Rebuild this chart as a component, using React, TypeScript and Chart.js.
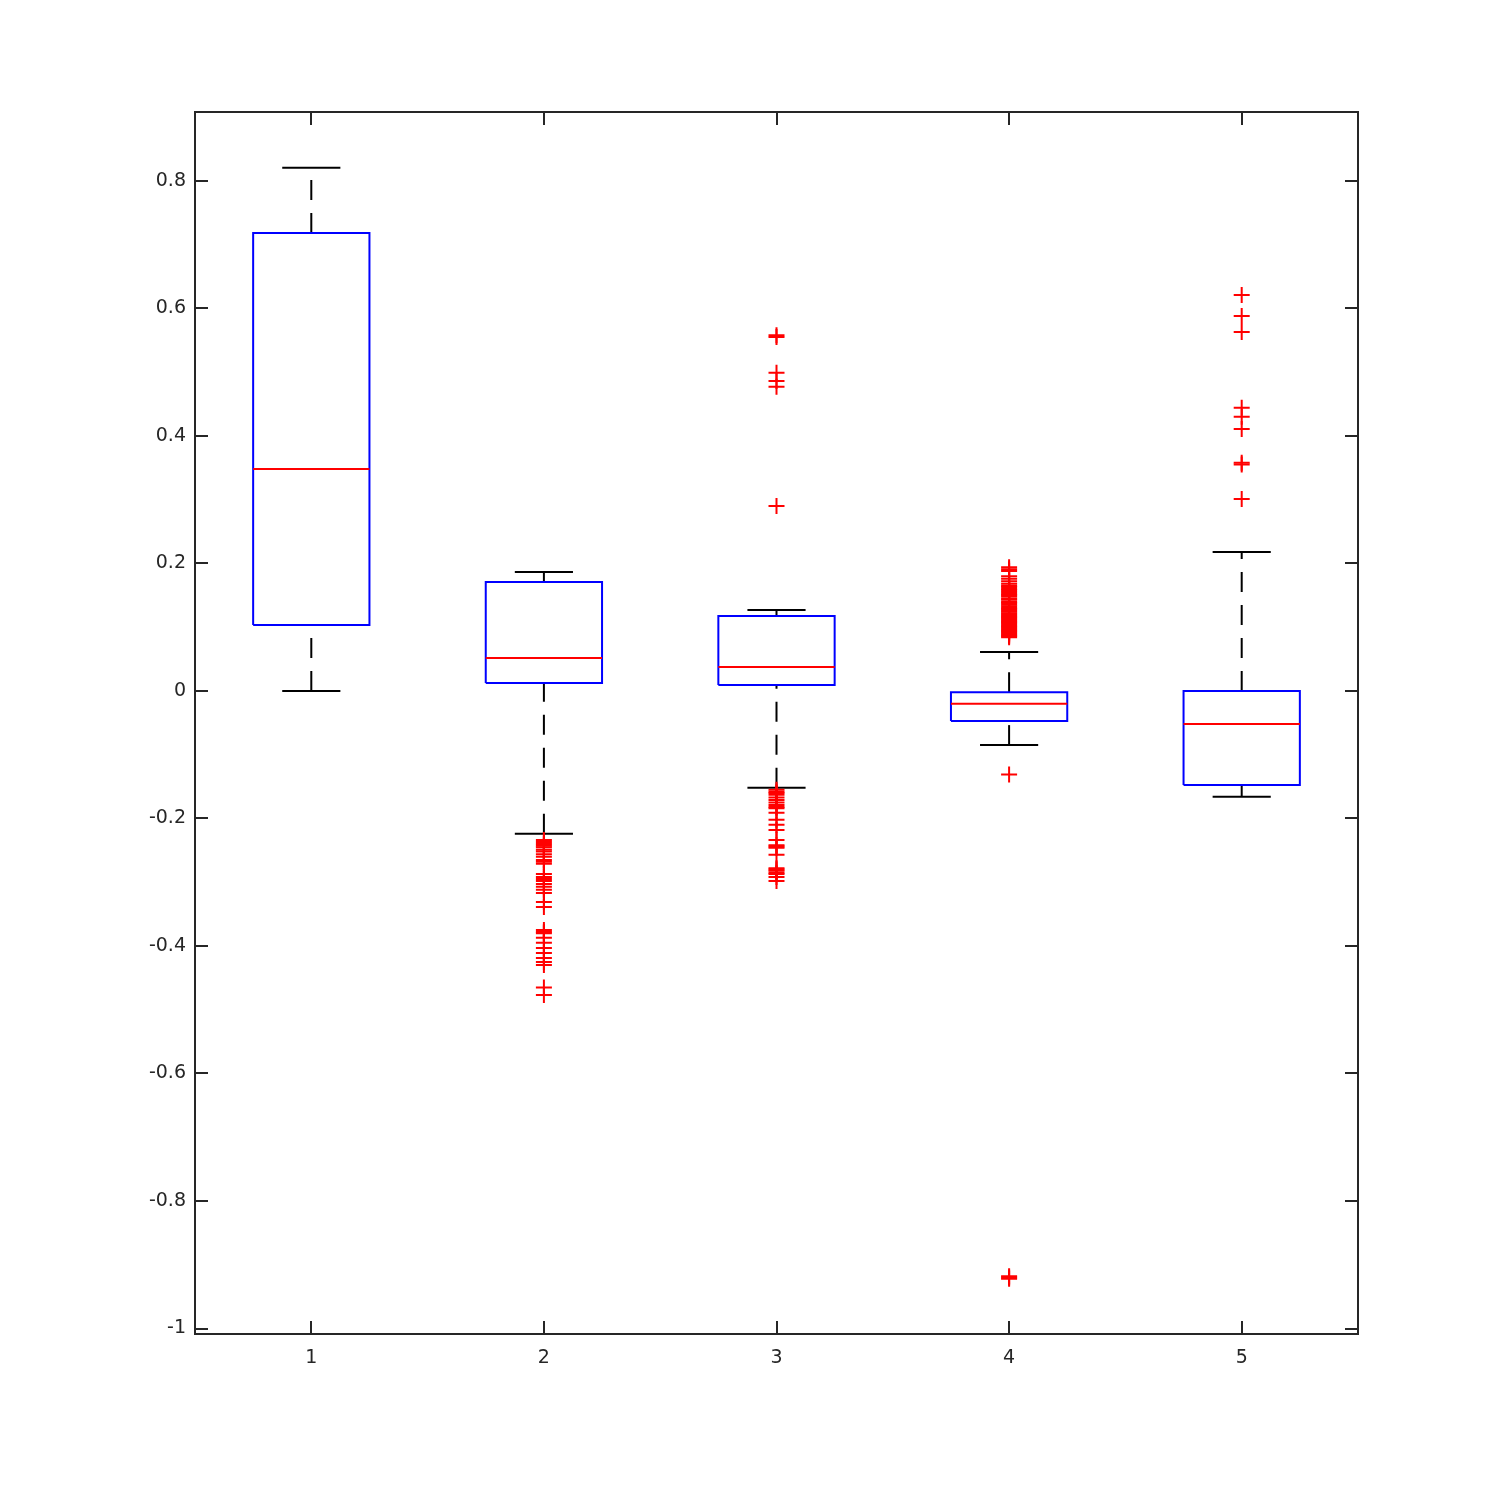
import React, { useEffect, useRef } from "react";
import { Chart, registerables } from "chart.js";

Chart.register(...registerables);

// ---- data ----
const categories = [1, 2, 3, 4, 5];
const xTickLabels = ["1", "2", "3", "4", "5"];
const yTickValues = [-1, -0.8, -0.6, -0.4, -0.2, 0, 0.2, 0.4, 0.6, 0.8];
const yTickLabels = ["-1", "-0.8", "-0.6", "-0.4", "-0.2", "0", "0.2", "0.4", "0.6", "0.8"];

const whiskerLow = [0, -0.224, -0.152, -0.085, -0.166];
const q1 = [0.1035, 0.0125, 0.0094, -0.047, -0.1475];
const medians = [0.348, 0.0518, 0.0376, -0.02, -0.052];
const q3 = [0.7184, 0.171, 0.1176, -0.002, 0];
const whiskerHigh = [0.8204, 0.1867, 0.127, 0.061, 0.218];

const outliers1: number[] = [];
const outliers2 = [
  -0.234, -0.237, -0.24, -0.243, -0.245, -0.249, -0.252, -0.256, -0.26, -0.265, -0.268, -0.271,
  -0.287, -0.292, -0.295, -0.298, -0.303, -0.307, -0.312, -0.317, -0.331, -0.339, -0.375, -0.378,
  -0.38, -0.387, -0.395, -0.403, -0.411, -0.419, -0.425, -0.43, -0.465, -0.477,
];
const outliers3 = [
  0.555, 0.558, 0.499, 0.486, 0.477, 0.29, -0.155, -0.158, -0.16, -0.163, -0.167, -0.171, -0.175,
  -0.179, -0.182, -0.184, -0.191, -0.202, -0.21, -0.218, -0.234, -0.242, -0.244, -0.246, -0.257,
  -0.278, -0.28, -0.282, -0.285, -0.287, -0.292, -0.298,
];
const outliers4 = [
  0.194, 0.191, 0.188, 0.18, 0.176, 0.172, 0.168, 0.165, 0.163, 0.16, 0.158, 0.155, 0.152, 0.15,
  0.148, 0.145, 0.143, 0.14, 0.138, 0.135, 0.133, 0.13, 0.128, 0.126, 0.124, 0.122, 0.12, 0.118,
  0.116, 0.114, 0.112, 0.11, 0.108, 0.106, 0.104, 0.102, 0.1, 0.098, 0.096, 0.094, 0.092, 0.09,
  0.088, 0.086, 0.084, -0.131, -0.918, -0.92, -0.922,
];
const outliers5 = [0.621, 0.588, 0.563, 0.444, 0.43, 0.411, 0.358, 0.355, 0.301];
const outliers = [outliers1, outliers2, outliers3, outliers4, outliers5];

// ---- styles ----
const BOX_HALF = 0.25;
const CAP_HALF = 0.125;
const BLUE = "#0000ff";
const RED = "#ff0000";
const BLACK = "#000000";
const AXIS = "#262626";
const FONT = "'DejaVu Sans', sans-serif";

const framePlugin = {
  id: "matlabFrame",
  afterDatasetsDraw(chart: any) {
    const { ctx, chartArea: a, scales } = chart;
    const L = 13;
    ctx.save();
    ctx.strokeStyle = AXIS;
    ctx.lineWidth = 2;
    ctx.beginPath();
    ctx.rect(a.left, a.top, a.right - a.left, a.bottom - a.top);
    scales.x.ticks.forEach((t: any) => {
      const px = Math.round(scales.x.getPixelForValue(t.value));
      ctx.moveTo(px, a.bottom);
      ctx.lineTo(px, a.bottom - L);
      ctx.moveTo(px, a.top);
      ctx.lineTo(px, a.top + L);
    });
    scales.y.ticks.forEach((t: any) => {
      const py = Math.round(scales.y.getPixelForValue(t.value));
      ctx.moveTo(a.left, py);
      ctx.lineTo(a.left + L, py);
      ctx.moveTo(a.right, py);
      ctx.lineTo(a.right - L, py);
    });
    ctx.stroke();
    ctx.restore();
  },
};

function lineDs(data: any[], color: string, order: number, dash: number[] = []) {
  return {
    type: "line",
    data,
    borderColor: color,
    borderWidth: 2,
    borderDash: dash,
    pointRadius: 0,
    pointHoverRadius: 0,
    fill: false,
    tension: 0,
    order,
  };
}

export default function App() {
  const ref = useRef<HTMLCanvasElement | null>(null);

  useEffect(() => {
    if (!ref.current) return;
    const datasets: any[] = [];
    categories.forEach((c, i) => {
      // whiskers (dashed)
      datasets.push(
        lineDs([{ x: c, y: q3[i] }, { x: c, y: whiskerHigh[i] }], BLACK, 5, [20, 13])
      );
      datasets.push(
        lineDs([{ x: c, y: whiskerLow[i] }, { x: c, y: q1[i] }], BLACK, 5, [20, 13])
      );
      // caps
      datasets.push(
        lineDs(
          [
            { x: c - CAP_HALF, y: whiskerHigh[i] },
            { x: c + CAP_HALF, y: whiskerHigh[i] },
          ],
          BLACK,
          4
        )
      );
      datasets.push(
        lineDs(
          [
            { x: c - CAP_HALF, y: whiskerLow[i] },
            { x: c + CAP_HALF, y: whiskerLow[i] },
          ],
          BLACK,
          4
        )
      );
      // box
      datasets.push(
        lineDs(
          [
            { x: c - BOX_HALF, y: q1[i] },
            { x: c + BOX_HALF, y: q1[i] },
            { x: c + BOX_HALF, y: q3[i] },
            { x: c - BOX_HALF, y: q3[i] },
            { x: c - BOX_HALF, y: q1[i] },
          ],
          BLUE,
          3
        )
      );
      // median
      datasets.push(
        lineDs(
          [
            { x: c - BOX_HALF, y: medians[i] },
            { x: c + BOX_HALF, y: medians[i] },
          ],
          RED,
          2
        )
      );
      // outliers
      datasets.push({
        type: "line",
        data: outliers[i].map((v) => ({ x: c, y: v })),
        showLine: false,
        pointStyle: "cross",
        pointRadius: 8,
        pointHoverRadius: 8,
        pointBorderWidth: 2,
        pointBorderColor: RED,
        pointBackgroundColor: RED,
        borderColor: RED,
        order: 1,
      });
    });

    const chart = new Chart(ref.current, {
      type: "line",
      data: { datasets },
      plugins: [framePlugin],
      options: {
        responsive: false,
        animation: false,
        events: [],
        layout: { padding: { top: 112, right: 142, left: 0, bottom: 0 } },
        plugins: { legend: { display: false }, tooltip: { enabled: false } },
        scales: {
          x: {
            type: "linear",
            min: 0.5,
            max: 5.5,
            afterBuildTicks: (scale: any) => {
              scale.ticks = categories.map((v) => ({ value: v }));
            },
            afterFit: (scale: any) => {
              scale.height = 166;
            },
            grid: { display: false, drawTicks: false },
            border: { display: false },
            ticks: {
              padding: 13,
              color: AXIS,
              font: { family: FONT, size: 19 },
              callback: (_v: any, i: number) => xTickLabels[i],
              maxRotation: 0,
            },
          },
          y: {
            type: "linear",
            min: -1.0086,
            max: 0.908,
            afterBuildTicks: (scale: any) => {
              scale.ticks = yTickValues.map((v) => ({ value: v }));
            },
            afterFit: (scale: any) => {
              scale.width = 195;
            },
            grid: { display: false, drawTicks: false },
            border: { display: false },
            ticks: {
              padding: 9,
              color: AXIS,
              font: { family: FONT, size: 19 },
              callback: (_v: any, i: number) => yTickLabels[i],
            },
          },
        },
      } as any,
    });
    return () => chart.destroy();
  }, []);

  return (
    <div style={{ position: "fixed", left: 0, top: 0, width: 1500, height: 1500, background: "#fff" }}>
      <canvas ref={ref} width={1500} height={1500} style={{ width: 1500, height: 1500 }} />
    </div>
  );
}
